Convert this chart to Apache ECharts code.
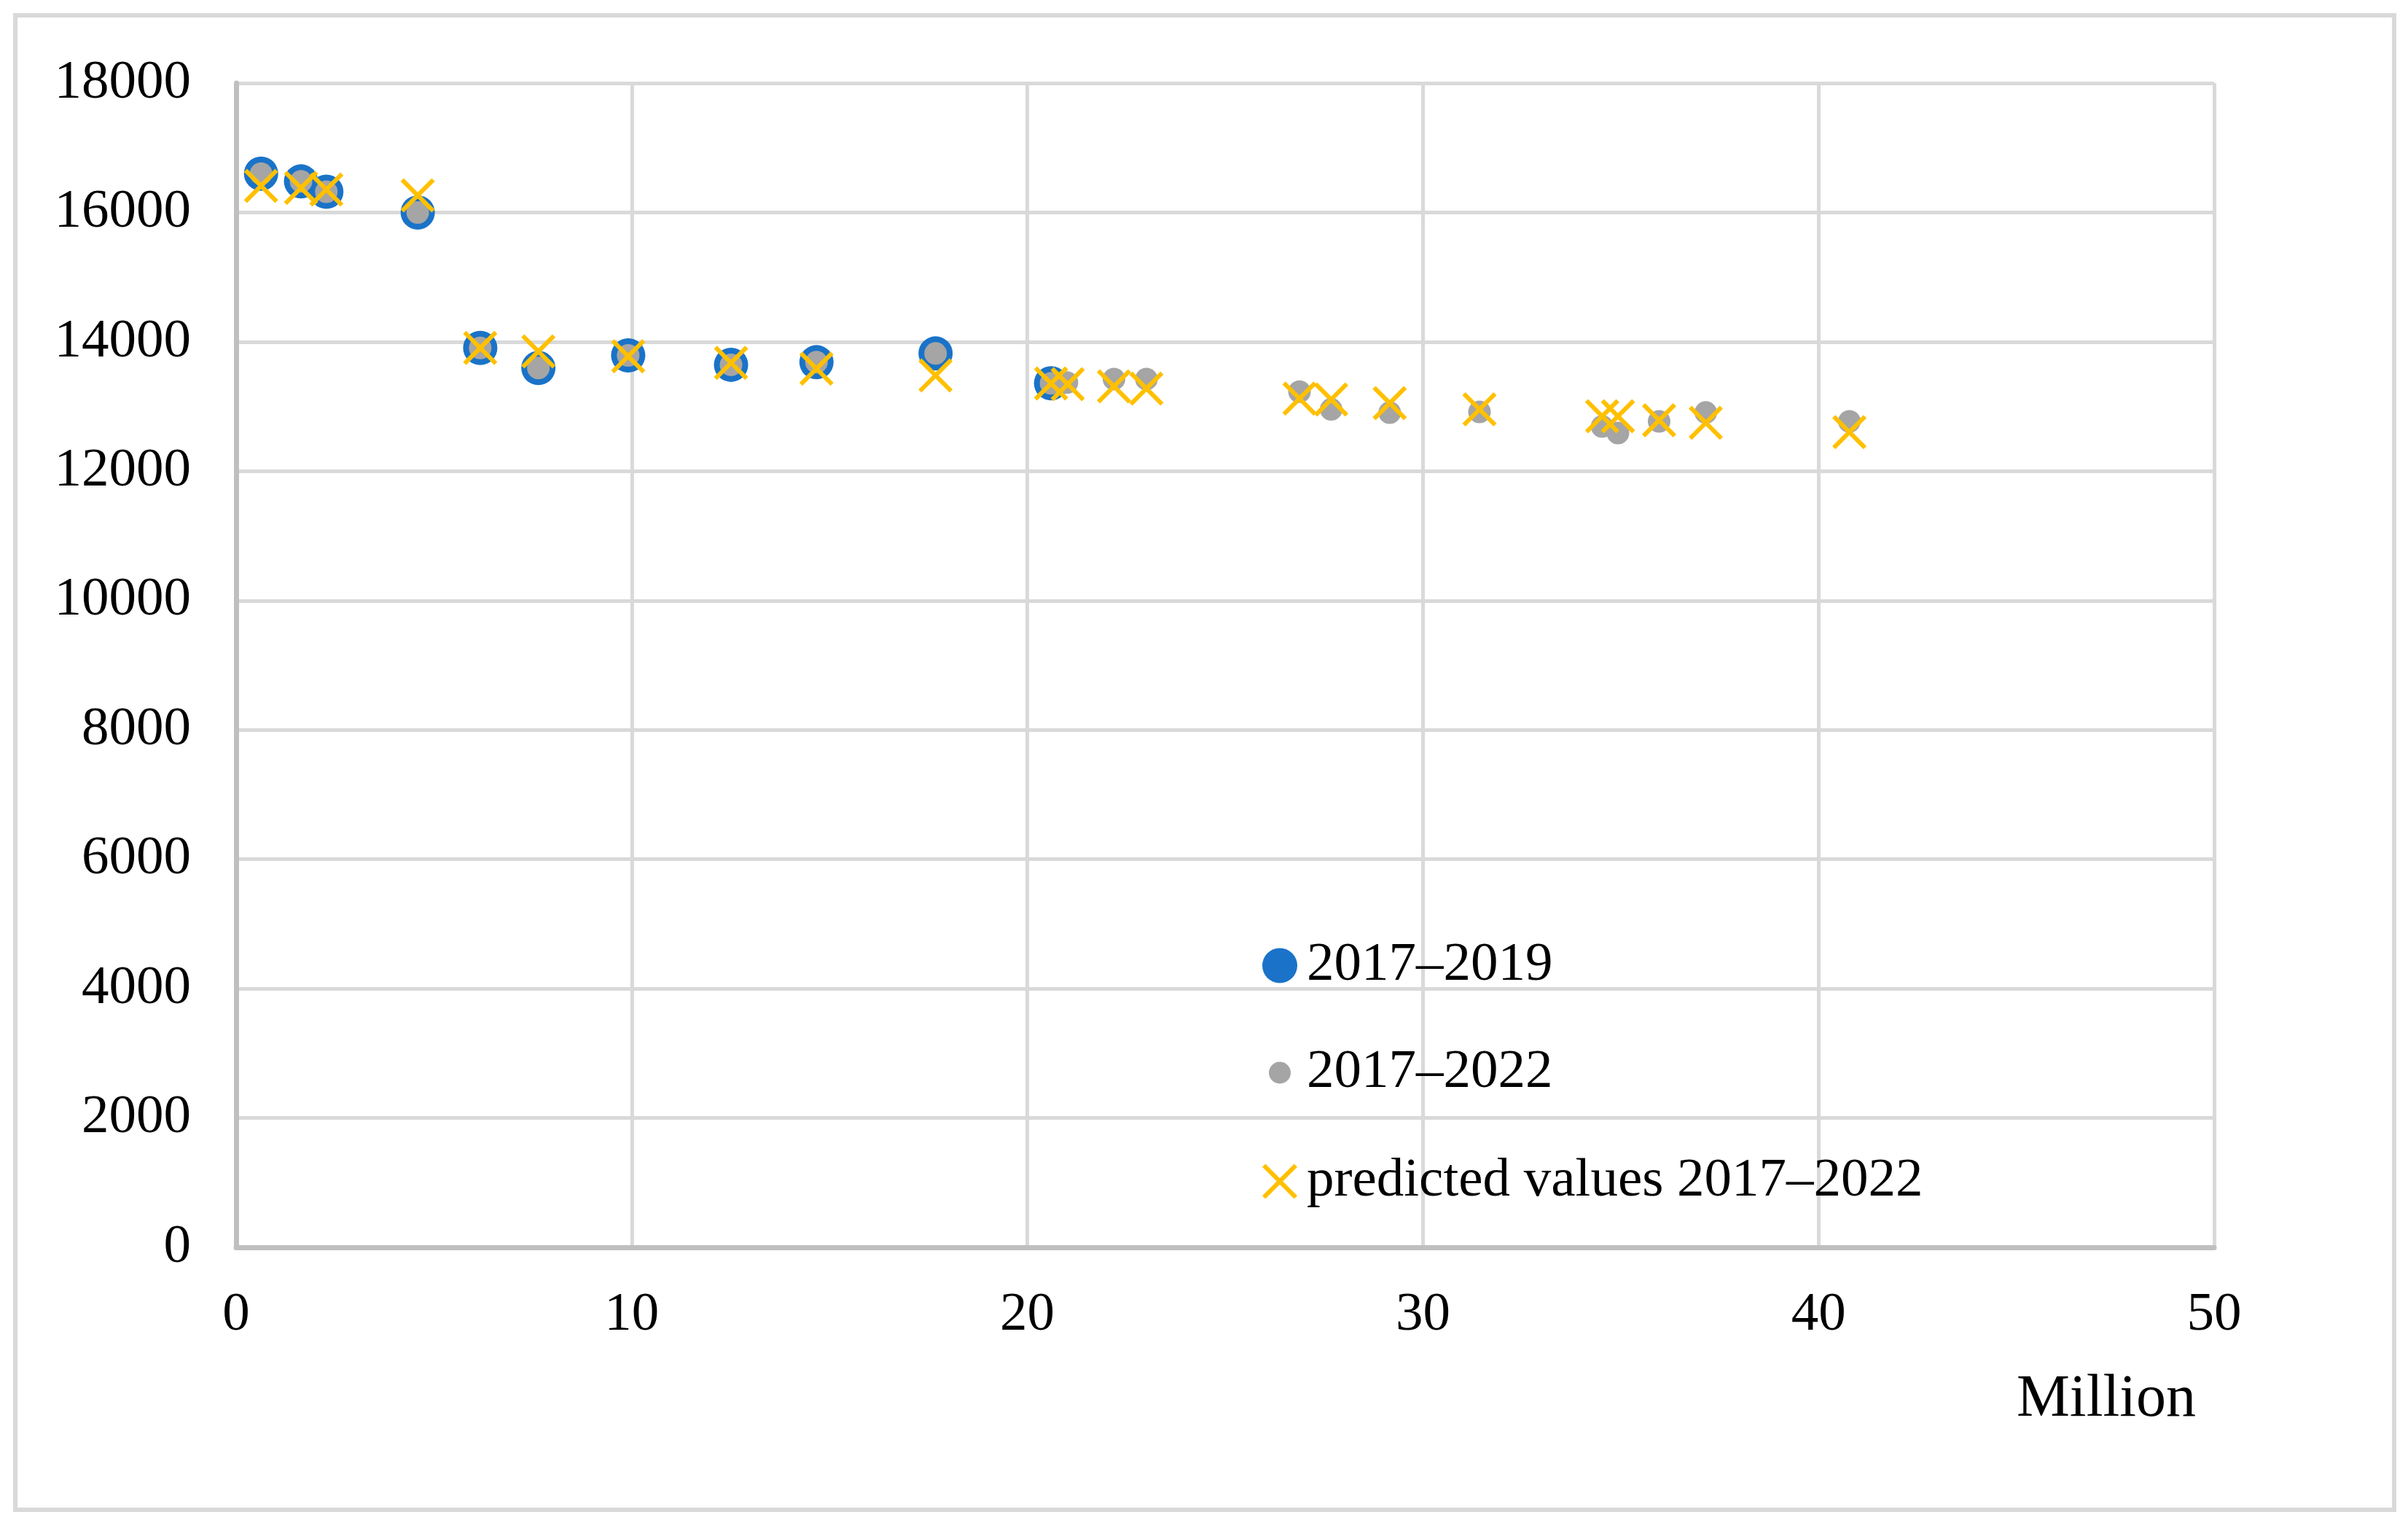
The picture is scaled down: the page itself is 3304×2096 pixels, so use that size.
<!DOCTYPE html>
<html>
<head>
<meta charset="utf-8">
<script src="https://cdn.jsdelivr.net/npm/echarts@6/dist/echarts.min.js"></script>
<style>
html,body{margin:0;padding:0;background:#fff;}
#chart{width:3304px;height:2096px;}
</style>
</head>
<body>
<div id="chart"></div>
<script>
// ---- data ----
const xTicks = [0, 10, 20, 30, 40, 50];
const yTicks = [0, 2000, 4000, 6000, 8000, 10000, 12000, 14000, 16000, 18000];
const seriesNames = ['2017–2019', '2017–2022', 'predicted values 2017–2022'];

const data2017_2019 = [
  [0.63, 16600], [1.64, 16480], [2.28, 16320], [4.59, 16000], [6.17, 13905],
  [7.64, 13595], [9.91, 13790], [12.51, 13645], [14.67, 13685], [17.68, 13820],
  [20.60, 13360]
];
const data2017_2022 = [
  [0.63, 16600], [1.64, 16480], [2.28, 16320], [4.59, 16000], [6.17, 13905],
  [7.64, 13595], [9.91, 13790], [12.51, 13645], [14.67, 13685], [17.68, 13820],
  [20.60, 13360], [21.0, 13370], [22.19, 13425], [23.01, 13425], [26.88, 13230],
  [27.68, 12955], [29.16, 12905], [31.43, 12917], [34.53, 12692], [34.93, 12590],
  [35.97, 12770], [37.15, 12907], [40.78, 12770]
];
const predicted2017_2022 = [
  [0.63, 16410], [1.64, 16380], [2.28, 16355], [4.59, 16265], [6.17, 13905],
  [7.64, 13852], [9.91, 13775], [12.51, 13675], [14.67, 13584], [17.68, 13481],
  [20.60, 13357], [21.02, 13346], [22.19, 13312], [23.01, 13278], [26.88, 13122],
  [27.68, 13108], [29.16, 13052], [31.43, 12955], [34.53, 12850], [34.93, 12850],
  [35.97, 12786], [37.15, 12748], [40.78, 12605]
];
const xAxisName = 'Million';

// ---- chart ----
const FONT = "'Liberation Serif','Times New Roman',serif";
const crossPath = 'path://M0,9L9,0L100,91L91,100ZM91,0L100,9L9,100L0,91Z';
const chart = echarts.init(document.getElementById('chart'));

function legendAt(name, left, top, iw, ih) {
  return {
    data: [name],
    orient: 'vertical',
    left: left,
    top: top,
    itemWidth: iw,
    itemHeight: ih,
    padding: 0,
    selectedMode: false,
    textStyle: { fontFamily: FONT, fontSize: 75, color: '#000', padding: [0, 0, 0, 8] }
  };
}

chart.setOption({
  backgroundColor: '#fff',
  animation: false,
  graphic: [{
    type: 'rect',
    left: 18, top: 18,
    shape: { width: 3264, height: 2050 },
    style: { fill: 'none', stroke: '#d9d9d9', lineWidth: 6 },
    z: -1
  }],
  grid: { left: 324, right: 266, top: 114, bottom: 385 },
  legend: [
    legendAt(seriesNames[0], 1732, 1287, 48, 48),
    legendAt(seriesNames[1], 1741, 1434, 48, 30),
    legendAt(seriesNames[2], 1732, 1583, 48, 48)
  ],
  xAxis: {
    type: 'value',
    min: xTicks[0], max: xTicks[xTicks.length - 1],
    interval: xTicks[1] - xTicks[0],
    name: xAxisName,
    nameLocation: 'end',
    nameGap: -25,
    nameTextStyle: { fontFamily: FONT, fontSize: 82, color: '#000', align: 'right', verticalAlign: 'top', padding: [168, 0, 0, 0] },
    axisLine: { show: true, onZero: false, lineStyle: { color: '#bfbfbf', width: 7 } },
    axisTick: { show: false },
    axisLabel: { fontFamily: FONT, fontSize: 75, color: '#000', margin: 56, formatter: v => String(v) },
    splitLine: { show: true, lineStyle: { color: '#d9d9d9', width: 5 } }
  },
  yAxis: {
    type: 'value',
    min: yTicks[0], max: yTicks[yTicks.length - 1],
    interval: yTicks[1] - yTicks[0],
    axisLine: { show: true, onZero: false, lineStyle: { color: '#bfbfbf', width: 7 } },
    axisTick: { show: false },
    axisLabel: { fontFamily: FONT, fontSize: 75, color: '#000', margin: 62, formatter: v => String(v) },
    splitLine: { show: true, lineStyle: { color: '#d9d9d9', width: 5 } }
  },
  series: [
    {
      name: seriesNames[0], type: 'scatter', data: data2017_2019,
      symbol: 'circle', symbolSize: 47,
      itemStyle: { color: '#1a73c8', opacity: 1 }, z: 2
    },
    {
      name: seriesNames[1], type: 'scatter', data: data2017_2022,
      symbol: 'circle', symbolSize: 31,
      itemStyle: { color: '#a5a5a5', opacity: 1 }, z: 3
    },
    {
      name: seriesNames[2], type: 'scatter', data: predicted2017_2022,
      symbol: crossPath, symbolSize: 47,
      itemStyle: { color: '#ffc000', opacity: 1 }, z: 4
    }
  ]
});
</script>
</body>
</html>
